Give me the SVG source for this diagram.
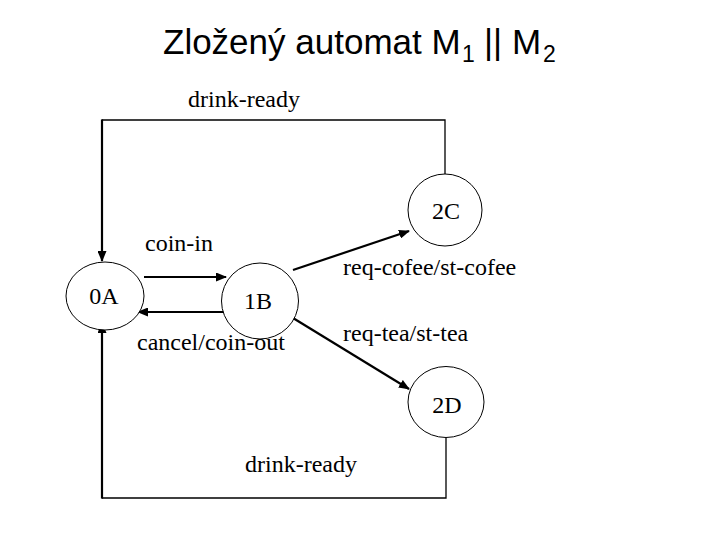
<svg xmlns="http://www.w3.org/2000/svg" width="720" height="540" viewBox="0 0 720 540">
  <style>
    .title { font-family: "Liberation Sans", Arial, sans-serif; font-size: 35px; fill: #000; }
    .sub { font-size: 23px; }
    .lbl { font-family: "Liberation Serif", "Times New Roman", serif; font-size: 24px; fill: #000; }
    .state { fill: #fff; stroke: #000; stroke-width: 1; }
    .thin { fill: none; stroke: #000; stroke-width: 1.3; }
    .arr { fill: none; stroke: #000; stroke-width: 2.2; marker-end: url(#ah); }
  </style>
  <defs>
    <marker id="ah" markerUnits="userSpaceOnUse" markerWidth="11" markerHeight="9" refX="10" refY="4.5" orient="auto">
      <path d="M0,0 L11,4.5 L0,9 z" fill="#000"/>
    </marker>
  </defs>
  <rect width="720" height="540" fill="#fff"/>

  <text class="title" y="54"><tspan x="163">Zložený automat M</tspan><tspan class="sub" x="462" y="62">1</tspan><tspan x="484" y="54">||</tspan><tspan x="512">M</tspan><tspan class="sub" x="543" y="62">2</tspan></text>

  <g id="connectors">
    <path class="thin" d="M445,174 V120 H102"/>
    <path class="arr" d="M102,119.4 V261"/>
    <path class="thin" d="M446,438 V498 H102"/>
    <path class="arr" d="M102,498.6 V323"/>
    <path class="arr" d="M144,277 H226"/>
    <path class="arr" d="M224,312 H138"/>
    <path class="arr" d="M293,270 L409,231"/>
    <path class="arr" d="M293,318 L409,389"/>
    <text class="lbl" x="188" y="107" font-size="25">drink-ready</text>
    <text class="lbl" x="145" y="251">coin-in</text>
    <text class="lbl" x="137" y="350">cancel/coin-out</text>
    <text class="lbl" x="343" y="275">req-cofee/st-cofee</text>
    <text class="lbl" x="343" y="341">req-tea/st-tea</text>
    <text class="lbl" x="245" y="472">drink-ready</text>
  </g>

  <g id="node-0A">
    <ellipse class="state" cx="105" cy="296" rx="39" ry="34"/>
    <text class="lbl" x="104" y="304" text-anchor="middle">0A</text>
  </g>
  <g id="node-1B">
    <ellipse class="state" cx="260" cy="301" rx="38.5" ry="38"/>
    <text class="lbl" x="258" y="309" text-anchor="middle">1B</text>
  </g>
  <g id="node-2C">
    <ellipse class="state" cx="445" cy="210" rx="37" ry="36"/>
    <text class="lbl" x="446" y="219" text-anchor="middle">2C</text>
  </g>
  <g id="node-2D">
    <ellipse class="state" cx="446" cy="402" rx="38" ry="35.5"/>
    <text class="lbl" x="447" y="413" text-anchor="middle">2D</text>
  </g>
</svg>
